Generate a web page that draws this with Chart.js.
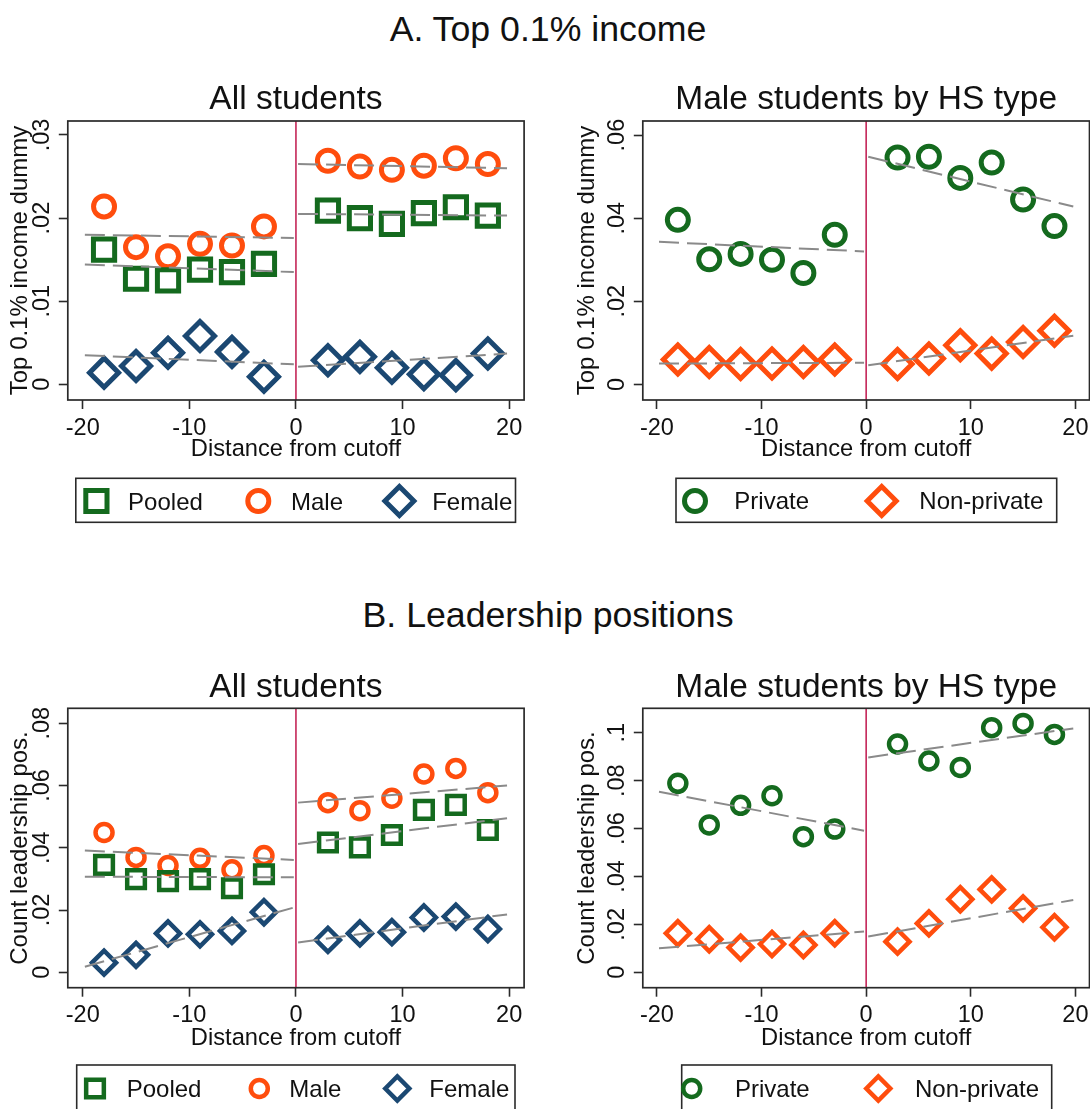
<!DOCTYPE html>
<html>
<head>
<meta charset="utf-8">
<script src="https://cdn.jsdelivr.net/npm/chart.js@4.4.1/dist/chart.umd.min.js"></script>
<style>
  html, body { margin: 0; padding: 0; background: #fff; }
  body { width: 1090px; height: 1109px; overflow: hidden; position: relative;
         font-family: "Liberation Sans", Arial, Helvetica, sans-serif; }
  .block-title { position: absolute; left: 3px; width: 1090px; text-align: center;
                 font-size: 35.7px; line-height: 40px; color: #111; white-space: nowrap; }
  canvas { position: absolute; }
</style>
</head>
<body>
<div class="block-title" style="top:9.3px">A. Top 0.1% income</div>
<div class="block-title" style="top:594.7px">B. Leadership positions</div>
<canvas id="incomeAll" width="545" height="495" style="left:0;top:55px;width:545px;height:495px"></canvas>
<canvas id="incomeHs" width="565" height="495" style="left:545px;top:55px;width:565px;height:495px"></canvas>
<canvas id="leadAll" width="545" height="470" style="left:0;top:640px;width:545px;height:470px"></canvas>
<canvas id="leadHs" width="565" height="470" style="left:545px;top:640px;width:565px;height:470px"></canvas>

<script>
const FONT = '"Liberation Sans", Arial, Helvetica, sans-serif';
Chart.defaults.font.family = FONT;
Chart.defaults.color = '#111';

// ---- data -------------------------------------------------------------
// bin midpoints: distance from the admission cutoff
const binsX = [-18, -15, -12, -9, -6, -3, 3, 6, 9, 12, 15, 18];
const cutoffValue = 0;
const xTickValues = [-20, -10, 0, 10, 20];
const xTickLabels = ['-20', '-10', '0', '10', '20'];
// x positions where each side's linear fit is evaluated (left start/end, right start/end)
const fitX = [-19.8, -0.2, 0.2, 19.8];

// A. Top 0.1% income, all students
const incomePooled = [0.0162, 0.0127, 0.0125, 0.0138, 0.0135, 0.0145, 0.0209, 0.0200, 0.0193, 0.0206, 0.0213, 0.0203];
const incomeMale   = [0.0214, 0.0165, 0.0154, 0.0169, 0.0167, 0.0190, 0.0269, 0.0262, 0.0258, 0.0263, 0.0272, 0.0265];
const incomeFemale = [0.0014, 0.0022, 0.0038, 0.0058, 0.0039, 0.0009, 0.0029, 0.0033, 0.0020, 0.0012, 0.0011, 0.0037];
const fitIncomePooled = [0.0144, 0.0135, 0.0205, 0.0203];
const fitIncomeMale   = [0.0180, 0.0176, 0.0265, 0.0260];
const fitIncomeFemale = [0.0035, 0.0024, 0.0021, 0.0037];
const incomeAllTicks = [0, 0.01, 0.02, 0.03];
const incomeAllTickLabels = ['0', '.01', '.02', '.03'];

// A. Top 0.1% income, male students by high-school type
const incomePrivate    = [0.0396, 0.0301, 0.0314, 0.0300, 0.0268, 0.0360, 0.0546, 0.0548, 0.0497, 0.0534, 0.0445, 0.0381];
const incomeNonPrivate = [0.0060, 0.0054, 0.0049, 0.0050, 0.0054, 0.0060, 0.0049, 0.0062, 0.0094, 0.0074, 0.0102, 0.0129];
const fitIncomePrivate    = [0.0343, 0.0320, 0.0548, 0.0428];
const fitIncomeNonPrivate = [0.0050, 0.0052, 0.0046, 0.0117];
const incomeHsTicks = [0, 0.02, 0.04, 0.06];
const incomeHsTickLabels = ['0', '.02', '.04', '.06'];

// B. Leadership positions, all students
const leadPooled = [0.0345, 0.0299, 0.0293, 0.0299, 0.0270, 0.0315, 0.0417, 0.0401, 0.0441, 0.0522, 0.0538, 0.0457];
const leadMale   = [0.0449, 0.0369, 0.0343, 0.0366, 0.0329, 0.0375, 0.0545, 0.0519, 0.0559, 0.0637, 0.0655, 0.0577];
const leadFemale = [0.0031, 0.0056, 0.0125, 0.0122, 0.0133, 0.0193, 0.0104, 0.0125, 0.0129, 0.0176, 0.0179, 0.0139];
const fitLeadPooled = [0.0307, 0.0305, 0.0412, 0.0495];
const fitLeadMale   = [0.0391, 0.0361, 0.0545, 0.0600];
const fitLeadFemale = [0.0018, 0.0208, 0.0096, 0.0186];
const leadAllTicks = [0, 0.02, 0.04, 0.06, 0.08];
const leadAllTickLabels = ['0', '.02', '.04', '.06', '.08'];

// B. Leadership positions, male students by high-school type
const leadPrivate    = [0.0789, 0.0615, 0.0697, 0.0737, 0.0566, 0.0598, 0.0953, 0.0882, 0.0855, 0.1021, 0.1039, 0.0993];
const leadNonPrivate = [0.0163, 0.0138, 0.0103, 0.0118, 0.0114, 0.0163, 0.0128, 0.0204, 0.0305, 0.0346, 0.0267, 0.0188];
const fitLeadPrivate    = [0.0754, 0.0591, 0.0897, 0.1018];
const fitLeadNonPrivate = [0.0100, 0.0170, 0.0149, 0.0302];
const leadHsTicks = [0, 0.02, 0.04, 0.06, 0.08, 0.1];
const leadHsTickLabels = ['0', '.02', '.04', '.06', '.08', '.1'];

// ---- styling ----------------------------------------------------------
const colors = {
  green: '#146a1e', orange: '#ff4d0d', navy: '#1b4872',
  fit: '#8a8a8a', cutoff: '#c0174d', frame: '#2a2a2a', text: '#111'
};
const markersA = { circle: 10.5, rect: 15, rectRot: 14.5, border: 5 };
const markersB = { circle: 8.5, rect: 12.5, rectRot: 12, border: 4.5 };
const fonts = { tick: 23.5, axisTitle: 24, xTitle: 23.7, subtitle: 33.5, legend: 24 };

function points(values) {
  return binsX.map((x, i) => ({ x, y: values[i] }));
}
function fitPoints(f) {
  return [
    { x: fitX[0], y: f[0] }, { x: fitX[1], y: f[1] },
    { x: cutoffValue, y: null },
    { x: fitX[2], y: f[2] }, { x: fitX[3], y: f[3] }
  ];
}

// legend glyphs, same geometry as the Chart.js point styles
function drawMarker(ctx, style, r, width, color, x, y) {
  ctx.save();
  ctx.strokeStyle = color;
  ctx.lineWidth = width;
  ctx.lineJoin = 'miter';
  ctx.beginPath();
  if (style === 'circle') {
    ctx.arc(x, y, r, 0, Math.PI * 2);
  } else if (style === 'rect') {
    const s = r * Math.SQRT2;
    ctx.rect(x - s / 2, y - s / 2, s, s);
  } else {
    ctx.moveTo(x - r, y); ctx.lineTo(x, y - r); ctx.lineTo(x + r, y); ctx.lineTo(x, y + r);
    ctx.closePath();
  }
  ctx.stroke();
  ctx.restore();
}

function decor(spec) {
  return {
    id: 'decor',
    beforeDatasetsDraw(chart) {
      const { ctx, chartArea: a, scales: { x } } = chart;
      const px = x.getPixelForValue(cutoffValue);
      ctx.save();
      ctx.strokeStyle = colors.cutoff;
      ctx.lineWidth = 1.5;
      ctx.beginPath();
      ctx.moveTo(px, a.top);
      ctx.lineTo(px, a.bottom);
      ctx.stroke();
      ctx.restore();
    },
    afterDraw(chart) {
      const { ctx, chartArea: a, scales: { y } } = chart;
      ctx.save();
      // plot frame
      ctx.strokeStyle = colors.frame;
      ctx.lineWidth = 1.7;
      ctx.strokeRect(a.left, a.top, a.right - a.left, a.bottom - a.top);

      // vertical y tick labels
      ctx.fillStyle = colors.text;
      ctx.font = fonts.tick + 'px ' + FONT;
      ctx.textAlign = 'center';
      ctx.textBaseline = 'alphabetic';
      spec.yTicks.forEach((v, i) => {
        const py = y.getPixelForValue(v);
        ctx.save();
        ctx.translate(a.left - 19, py);
        ctx.rotate(-Math.PI / 2);
        ctx.fillText(spec.yTickLabels[i], 0, 0);
        ctx.restore();
      });

      // panel subtitle
      ctx.font = fonts.subtitle + 'px ' + FONT;
      ctx.fillText(spec.subtitle, (a.left + a.right) / 2, spec.subtitleBaseline);

      // legend box
      const L = spec.legend;
      ctx.strokeStyle = colors.frame;
      ctx.lineWidth = 1.6;
      ctx.strokeRect(L.box[0], L.box[1], L.box[2] - L.box[0], L.box[3] - L.box[1]);
      ctx.font = fonts.legend + 'px ' + FONT;
      ctx.textAlign = 'left';
      spec.series.forEach((s, i) => {
        drawMarker(ctx, s.style, spec.markers[s.style], spec.markers.border, s.color, L.markerX[i], L.markerY);
        ctx.fillStyle = colors.text;
        ctx.fillText(s.label, L.textX[i], L.textBaseline);
      });
      ctx.restore();
    }
  };
}

function makePanel(id, spec) {
  const scatterSets = spec.series.map(s => ({
    type: 'scatter',
    label: s.label,
    data: points(s.values),
    pointStyle: s.style,
    pointRadius: spec.markers[s.style],
    pointBorderWidth: spec.markers.border,
    borderColor: s.color,
    pointBorderColor: s.color,
    backgroundColor: 'rgba(0,0,0,0)',
    pointBackgroundColor: 'rgba(0,0,0,0)',
    order: 1
  }));
  const fitSets = spec.series.map(s => ({
    type: 'line',
    label: s.label + ' fit',
    data: fitPoints(s.fit),
    borderColor: colors.fit,
    borderWidth: 2,
    borderDash: [20, 8],
    borderCapStyle: 'butt',
    pointRadius: 0,
    spanGaps: false,
    fill: false,
    tension: 0,
    order: 0
  }));

  return new Chart(document.getElementById(id), {
    type: 'scatter',
    data: { datasets: [...fitSets, ...scatterSets] },
    options: {
      responsive: false,
      animation: false,
      events: [],
      layout: { padding: spec.padding },
      plugins: { legend: { display: false }, tooltip: { enabled: false } },
      scales: {
        x: {
          type: 'linear',
          min: spec.xMin, max: spec.xMax,
          afterBuildTicks: s => { s.ticks = xTickValues.map(v => ({ value: v })); },
          afterFit: s => { s.height = spec.xAxisHeight; },
          ticks: {
            callback: (v, i) => xTickLabels[i],
            font: { size: fonts.tick }, color: colors.text, padding: 5,
            maxRotation: 0, minRotation: 0, autoSkip: false
          },
          grid: { drawOnChartArea: false, drawTicks: true, tickLength: 9, tickColor: colors.frame, tickWidth: 1.6 },
          border: { display: false },
          title: { display: true, text: 'Distance from cutoff', font: { size: fonts.xTitle }, color: colors.text,
                   padding: { top: 0, bottom: spec.xTitlePad } }
        },
        y: {
          type: 'linear',
          min: spec.yMin, max: spec.yMax,
          afterBuildTicks: s => { s.ticks = spec.yTicks.map(v => ({ value: v })); },
          afterFit: s => { s.width = spec.yAxisWidth; },
          ticks: { display: false },
          grid: { drawOnChartArea: false, drawTicks: true, tickLength: 9, tickColor: colors.frame, tickWidth: 1.6 },
          border: { display: false },
          title: { display: true, text: spec.yTitle, font: { size: fonts.axisTitle }, color: colors.text,
                   padding: { top: spec.yTitlePad, bottom: 0 } }
        }
      }
    },
    plugins: [decor(spec)]
  });
}

// ---- panels -----------------------------------------------------------
makePanel('incomeAll', {
  subtitle: 'All students', subtitleBaseline: 54.3,
  yTitle: 'Top 0.1% income dummy', yTitlePad: 6,
  yMin: -0.00189, yMax: 0.03168, yTicks: incomeAllTicks, yTickLabels: incomeAllTickLabels,
  xMin: -21.4, xMax: 21.4,
  padding: { left: 0, top: 66, right: 20.9, bottom: 80 },
  yAxisWidth: 67.8, xAxisHeight: 70, xTitlePad: 6,
  markers: markersA,
  series: [
    { label: 'Pooled', values: incomePooled, fit: fitIncomePooled, style: 'rect', color: colors.green },
    { label: 'Male', values: incomeMale, fit: fitIncomeMale, style: 'circle', color: colors.orange },
    { label: 'Female', values: incomeFemale, fit: fitIncomeFemale, style: 'rectRot', color: colors.navy }
  ],
  legend: { box: [75.8, 423.3, 515.5, 467.3], markerX: [96.4, 258.3, 399.4], textX: [128.1, 291, 432.2],
            markerY: 446, textBaseline: 454.5 }
});

makePanel('incomeHs', {
  subtitle: 'Male students by HS type', subtitleBaseline: 54.3,
  yTitle: 'Top 0.1% income dummy', yTitlePad: 27.5,
  yMin: -0.00377, yMax: 0.0634, yTicks: incomeHsTicks, yTickLabels: incomeHsTickLabels,
  xMin: -21.35, xMax: 21.35,
  padding: { left: 0, top: 66, right: 20.5, bottom: 80 },
  yAxisWidth: 97.8, xAxisHeight: 70, xTitlePad: 6,
  markers: markersA,
  series: [
    { label: 'Private', values: incomePrivate, fit: fitIncomePrivate, style: 'circle', color: colors.green },
    { label: 'Non-private', values: incomeNonPrivate, fit: fitIncomeNonPrivate, style: 'rectRot', color: colors.orange }
  ],
  legend: { box: [131, 423.3, 511.7, 467.3], markerX: [150, 336.7], textX: [189.3, 374.3],
            markerY: 446, textBaseline: 454.3 }
});

makePanel('leadAll', {
  subtitle: 'All students', subtitleBaseline: 56.7,
  yTitle: 'Count leadership pos.', yTitlePad: 6,
  yMin: -0.00495, yMax: 0.0848, yTicks: leadAllTicks, yTickLabels: leadAllTickLabels,
  xMin: -21.4, xMax: 21.4,
  padding: { left: 0, top: 68.3, right: 20.9, bottom: 52.3 },
  yAxisWidth: 67.8, xAxisHeight: 70, xTitlePad: 5,
  markers: markersB,
  series: [
    { label: 'Pooled', values: leadPooled, fit: fitLeadPooled, style: 'rect', color: colors.green },
    { label: 'Male', values: leadMale, fit: fitLeadMale, style: 'circle', color: colors.orange },
    { label: 'Female', values: leadFemale, fit: fitLeadFemale, style: 'rectRot', color: colors.navy }
  ],
  legend: { box: [76.7, 425, 515, 472], markerX: [95, 259.3, 397.3], textX: [126.7, 289.3, 429.3],
            markerY: 448.5, textBaseline: 457 }
});

makePanel('leadHs', {
  subtitle: 'Male students by HS type', subtitleBaseline: 56.7,
  yTitle: 'Count leadership pos.', yTitlePad: 27.5,
  yMin: -0.00643, yMax: 0.1102, yTicks: leadHsTicks, yTickLabels: leadHsTickLabels,
  xMin: -21.35, xMax: 21.35,
  padding: { left: 0, top: 68.3, right: 20.5, bottom: 52.3 },
  yAxisWidth: 97.8, xAxisHeight: 70, xTitlePad: 5,
  markers: markersB,
  series: [
    { label: 'Private', values: leadPrivate, fit: fitLeadPrivate, style: 'circle', color: colors.green },
    { label: 'Non-private', values: leadNonPrivate, fit: fitLeadNonPrivate, style: 'rectRot', color: colors.orange }
  ],
  legend: { box: [136.7, 425, 506.7, 472], markerX: [146.7, 333.3], textX: [190, 370],
            markerY: 448.5, textBaseline: 457 }
});
</script>
</body>
</html>
